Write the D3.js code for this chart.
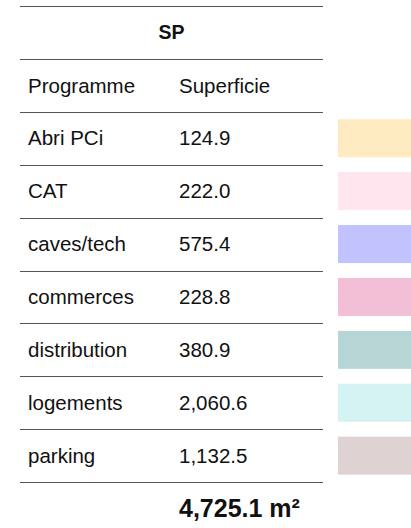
<!DOCTYPE html>
<html>
<head>
<meta charset="utf-8">
<script src="https://cdn.jsdelivr.net/npm/d3@7"></script>
<style>
  html, body { margin: 0; padding: 0; background: #fff; }
  svg { display: block; }
  text { font-family: "Liberation Sans", Arial, Helvetica, sans-serif; fill: #111; }
</style>
</head>
<body>
<svg id="chart" width="411" height="528"></svg>
<script>
const title = "SP";
const headers = ["Programme", "Superficie"];
const categories = ["Abri PCi", "CAT", "caves/tech", "commerces", "distribution", "logements", "parking"];
const values = [124.9, 222.0, 575.4, 228.8, 380.9, 2060.6, 1132.5];
const colors = ["#FFEBC2", "#FFE6EE", "#C2C2FF", "#F2BFD6", "#B8D5D5", "#D6F3F3", "#DFD2D2"];
const unit = "m²";

const svg = d3.select("#chart");
const fmt = d3.format(",.1f");

const rowKeys = ["title", "header", ...categories, "total"];
const y = d3.scaleBand().domain(rowKeys).range([6, 6 + 52.9 * rowKeys.length]).padding(0);
const x = d3.scaleOrdinal().domain(["label", "value"]).range([28, 179]);
const tableLeft = 20, tableRight = 323;

svg.append("g").selectAll("line").data(rowKeys).join("line")
  .attr("x1", tableLeft).attr("x2", tableRight)
  .attr("y1", d => Math.round(y(d)) + 0.5).attr("y2", d => Math.round(y(d)) + 0.5)
  .attr("stroke", "#555").attr("stroke-width", 1.2);

svg.append("text")
  .attr("x", (tableLeft + tableRight) / 2)
  .attr("y", y("title") + y.bandwidth() / 2)
  .attr("dy", "0.35em")
  .attr("text-anchor", "middle")
  .attr("font-weight", "bold")
  .attr("font-size", 19.5)
  .text(title);

svg.append("g").selectAll("text").data(headers).join("text")
  .attr("x", (d, i) => x(i === 0 ? "label" : "value"))
  .attr("y", y("header") + y.bandwidth() / 2)
  .attr("dy", "0.35em")
  .attr("font-size", 20.5)
  .text(d => d);

const rows = categories.map((c, i) => ({ c, v: values[i], col: colors[i] }));

const g = svg.append("g").selectAll("g").data(rows).join("g");
g.append("text")
  .attr("x", x("label"))
  .attr("y", d => y(d.c) + y.bandwidth() / 2)
  .attr("dy", "0.35em")
  .attr("font-size", 20.5)
  .text(d => d.c);
g.append("text")
  .attr("x", x("value"))
  .attr("y", d => y(d.c) + y.bandwidth() / 2)
  .attr("dy", "0.35em")
  .attr("font-size", 20.5)
  .text(d => fmt(d.v));
g.append("rect")
  .attr("x", 338)
  .attr("width", 73)
  .attr("y", d => y(d.c) + (y.bandwidth() - 38) / 2)
  .attr("height", 38)
  .attr("fill", d => d.col);

svg.append("text")
  .attr("x", x("value"))
  .attr("y", y("total") + y.bandwidth() / 2)
  .attr("dy", "0.35em")
  .attr("font-size", 25)
  .attr("font-weight", "bold")
  .text(fmt(d3.sum(values)) + " " + unit);
</script>
</body>
</html>
